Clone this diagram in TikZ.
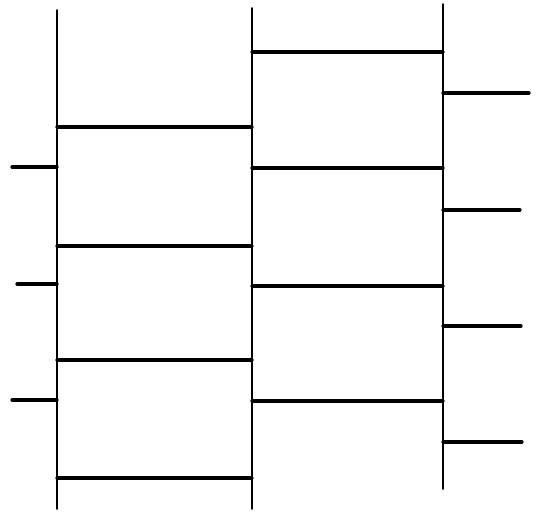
\documentclass[tikz,border=0pt]{standalone}
\usepackage{tikz}

\begin{document}
\begin{tikzpicture}[x=1pt, y=-1pt, line join=round, line cap=round]
\useasboundingbox (0,0) rectangle (542,513);
\def\xa{57}
\def\xb{252}
\def\xc{443}
\tikzset{post/.style={line width=1.8pt}, rung/.style={line width=3.2pt}}
% vertical lines
\coordinate (A1) at (\xa,10);
\coordinate (A2) at (\xa,509);
\coordinate (B1) at (\xb,8);
\coordinate (B2) at (\xb,509);
\coordinate (C1) at (\xc,4);
\coordinate (C2) at (\xc,489);
\draw[post] (A1) -- (A2);
\draw[post] (B1) -- (B2);
\draw[post] (C1) -- (C2);
% stubs on the left
\draw[rung] (12,167) -- (\xa,167);
\draw[rung] (17,284) -- (\xa,284);
\draw[rung] (12,400) -- (\xa,400);
% rungs between first and second line
\draw[rung] (\xa,127) -- (\xb,127);
\draw[rung] (\xa,246) -- (\xb,246);
\draw[rung] (\xa,360) -- (\xb,360);
\draw[rung] (\xa,478) -- (\xb,478);
% rungs between second and third line
\draw[rung] (\xb,52) -- (\xc,52);
\draw[rung] (\xb,168) -- (\xc,168);
\draw[rung] (\xb,286) -- (\xc,286);
\draw[rung] (\xb,401) -- (\xc,401);
% stubs on the right
\draw[rung] (\xc,93) -- (529,93);
\draw[rung] (\xc,210) -- (520,210);
\draw[rung] (\xc,326) -- (521,326);
\draw[rung] (\xc,442) -- (522,442);
\end{tikzpicture}
\end{document}
